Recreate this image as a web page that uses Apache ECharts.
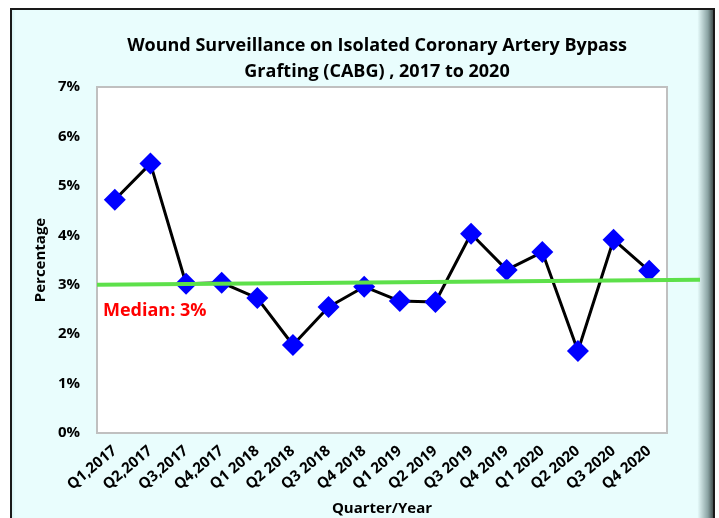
<!DOCTYPE html>
<html>
<head>
<meta charset="utf-8">
<script src="https://cdn.jsdelivr.net/npm/echarts@6/dist/echarts.min.js"></script>
<style>
  html, body { margin: 0; padding: 0; background: #ffffff; }
  #chart { width: 719px; height: 518px; }
</style>
</head>
<body>
<div id="chart"></div>
<script>
// Données du graphique
const quarters = ['Q1,2017', 'Q2,2017', 'Q3,2017', 'Q4,2017', 'Q1 2018', 'Q2 2018', 'Q3 2018', 'Q4 2018',
    'Q1 2019', 'Q2 2019', 'Q3 2019', 'Q4 2019', 'Q1 2020', 'Q2 2020', 'Q3 2020', 'Q4 2020'];
const woundRates = [4.72, 5.45, 3.02, 3.04, 2.73, 1.78, 2.55, 2.96, 2.67, 2.65, 4.03, 3.30, 3.66, 1.66, 3.91, 3.28];
const medianEnds = [3.0, 3.1];
const medianLabel = 'Median: 3%';

const chart = echarts.init(document.getElementById('chart'), null, { renderer: 'canvas' });
const font = "'Open Sans', 'Noto Sans', sans-serif";

const option = {
    backgroundColor: '#ffffff',
    animation: false,
    title: {
        text: 'Wound Surveillance on Isolated Coronary Artery Bypass\nGrafting (CABG) , 2017 to 2020',
        left: 372,
        top: 28,
        textAlign: 'center',
        textStyle: { fontFamily: font, fontWeight: 'bold', fontSize: 18, lineHeight: 26, color: '#000' }
    },
    graphic: [
        {
            type: 'rect',
            z: -10,
            shape: { x: 11, y: 9, width: 703, height: 520 },
            style: {
                fill: {
                    type: 'linear', x: 0, y: 0, x2: 1, y2: 0,
                    colorStops: [
                        { offset: 0, color: '#cfeeee' },
                        { offset: 0.008, color: '#e9fdfd' },
                        { offset: 0.975, color: '#e9fdfd' },
                        { offset: 0.99, color: '#8aa3a3' },
                        { offset: 1, color: '#2a3333' }
                    ]
                },
                stroke: '#1a1a1a',
                lineWidth: 2
            }
        },
        {
            type: 'text',
            left: 103,
            top: 302,
            z: 10,
            style: { text: medianLabel, fill: '#ff0000', font: "bold 18px 'Open Sans', 'Noto Sans', sans-serif" }
        }
    ],
    grid: [
        { left: 97, right: 52, top: 87, bottom: 85, outerBoundsMode: 'none', containLabel: false,
          show: true, backgroundColor: '#ffffff', borderColor: '#c0c0c0', borderWidth: 2 },
        { left: 97, right: 19, top: 87, bottom: 85, outerBoundsMode: 'none', containLabel: false }
    ],
    xAxis: [
        {
            type: 'category',
            gridIndex: 0,
            data: quarters,
            boundaryGap: true,
            name: 'Quarter/Year',
            nameLocation: 'middle',
            nameGap: 68,
            nameMoveOverlap: false,
            nameTextStyle: { fontFamily: font, fontWeight: 'bold', fontSize: 15, color: '#000' },
            axisLine: { show: false },
            axisTick: { show: false },
            axisLabel: { rotate: 40, margin: 16, interval: 0, fontFamily: font, fontWeight: 'bold', fontSize: 15, color: '#000' }
        },
        { type: 'value', gridIndex: 1, min: 0, max: 1, show: false }
    ],
    yAxis: [
        {
            type: 'value',
            gridIndex: 0,
            min: 0,
            max: 7,
            interval: 1,
            name: 'Percentage',
            nameLocation: 'middle',
            nameGap: 49,
            nameMoveOverlap: false,
            nameTextStyle: { fontFamily: font, fontWeight: 'bold', fontSize: 15, color: '#000' },
            axisLine: { show: false },
            axisTick: { show: false },
            splitLine: { show: false },
            axisLabel: { formatter: '{value}%', margin: 17, fontFamily: font, fontWeight: 'bold', fontSize: 15, color: '#000' }
        },
        { type: 'value', gridIndex: 1, min: 0, max: 7, show: false }
    ],
    series: [
        {
            type: 'line',
            xAxisIndex: 1,
            yAxisIndex: 1,
            data: [[0, medianEnds[0]], [1, medianEnds[1]]],
            symbol: 'none',
            lineStyle: { color: '#5de04a', width: 4 },
            z: 3
        },
        {
            type: 'line',
            xAxisIndex: 0,
            yAxisIndex: 0,
            data: woundRates,
            symbol: 'diamond',
            symbolSize: 22,
            itemStyle: { color: '#0000ff' },
            lineStyle: { color: '#000000', width: 3 },
            z: 2
        }
    ]
};

chart.setOption(option);
</script>
</body>
</html>
